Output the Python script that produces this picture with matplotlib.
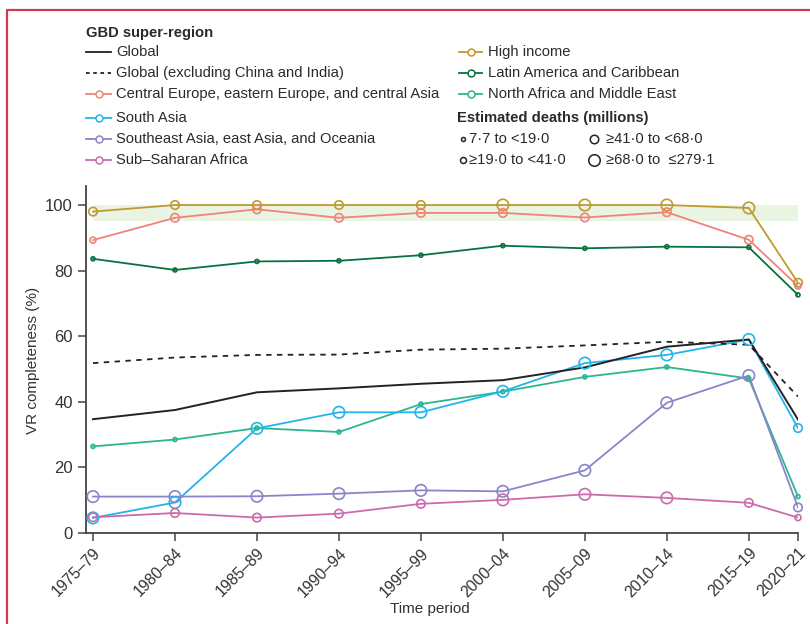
import numpy as np
import matplotlib.pyplot as plt

plt.rcParams['font.family'] = ['Liberation Sans', 'DejaVu Sans']

# data
periods = ['1975–79', '1980–84', '1985–89', '1990–94', '1995–99',
           '2000–04', '2005–09', '2010–14', '2015–19', '2020–21']
mid_year = [1977, 1982, 1987, 1992, 1997, 2002, 2007, 2012, 2017, 2020]

global_all = [34.7, 37.5, 42.9, 44.1, 45.5, 46.6, 50.5, 56.8, 59.0, 34.6]
global_excl = [51.8, 53.5, 54.3, 54.4, 55.9, 56.2, 57.2, 58.3, 57.4, 41.6]
high_income = [98.0, 100, 100, 100, 100, 100, 100, 100, 99.1, 76.3]
central_europe = [89.3, 96.1, 98.7, 96.1, 97.6, 97.6, 96.2, 97.8, 89.4, 75.3]
latin_america = [83.6, 80.2, 82.8, 83.0, 84.7, 87.6, 86.8, 87.3, 87.1, 72.6]
north_africa = [26.4, 28.5, 32.0, 30.8, 39.3, 43.1, 47.6, 50.6, 47.1, 11.1]
south_asia = [4.6, 9.3, 31.9, 36.8, 36.8, 43.2, 51.8, 54.3, 59.0, 32.0]
se_asia = [11.1, 11.1, 11.2, 12.0, 13.0, 12.7, 19.1, 39.7, 48.0, 7.8]
ss_africa = [4.8, 6.1, 4.7, 5.9, 8.9, 10.1, 11.8, 10.7, 9.2, 4.7]

# estimated deaths category (1..4) per point
hi_cat = [3, 3, 3, 3, 3, 4, 4, 4, 4, 3]
ce_cat = [2, 3, 3, 3, 3, 3, 3, 3, 3, 2]
la_cat = [1, 1, 1, 1, 1, 1, 1, 1, 1, 1]
na_cat = [1, 1, 1, 1, 1, 1, 1, 1, 1, 1]
sa_cat = [4, 4, 4, 4, 4, 4, 4, 4, 4, 3]
sea_cat = [4, 4, 4, 4, 4, 4, 4, 4, 4, 3]
ssa_cat = [3, 3, 3, 3, 3, 4, 4, 4, 3, 2]

death_labels = ['7·7 to <19·0', '≥19·0 to <41·0', '≥41·0 to <68·0', '≥68·0 to  ≤279·1']

# marker diameter in pixels for each category
diam = {1: 4, 2: 6, 3: 8.5, 4: 11.5}

col = {'hi': '#c09a2e', 'ce': '#f0837a', 'la': '#08723f', 'na': '#2db592',
       'sa': '#22b5ea', 'sea': '#8a85c7', 'ssa': '#cc6aac'}
txt = '#2a2a2a'

fig = plt.figure(figsize=(8.1, 6.24), dpi=100)
W, H = 810, 624
ax = fig.add_axes([86 / W, 1 - 533 / H, (798 - 86) / W, (533 - 186) / H])

x = np.array(mid_year)
ax.fill_between([x[0], x[-1]], 95, 100, color='#e9f4e2', lw=0, zorder=0)

ax.plot(x, global_all, color='#222222', lw=1.4, zorder=3)
ax.plot(x, global_excl, color='#222222', lw=1.3, ls=(0, (3, 3)), zorder=3)

series = [(high_income, hi_cat, 'hi'), (central_europe, ce_cat, 'ce'),
          (latin_america, la_cat, 'la'), (north_africa, na_cat, 'na'),
          (south_asia, sa_cat, 'sa'), (se_asia, sea_cat, 'sea'),
          (ss_africa, ssa_cat, 'ssa')]
for vals, cats, key in series:
    ax.plot(x, vals, color=col[key], lw=1.3, zorder=2)
    s = [(diam[c] * 0.72) ** 2 for c in cats]
    ax.scatter(x, vals, s=s, facecolors='none', edgecolors=col[key],
               linewidths=1.2, zorder=4, clip_on=False)

ax.set_xlim(1977 - 7 / 16.4, 2020)
ax.set_ylim(0, 105.8)
ax.set_yticks([0, 20, 40, 60, 80, 100])
ax.set_xticks(x)
ax.set_xticklabels(periods, rotation=45, ha='right', rotation_mode='anchor')
for sp in ['top', 'right']:
    ax.spines[sp].set_visible(False)
for sp in ['left', 'bottom']:
    ax.spines[sp].set_color('#444444')
    ax.spines[sp].set_linewidth(1.3)
ax.tick_params(axis='both', length=6, width=1.1, color='#444444',
               labelsize=12, labelcolor='#333333')
ax.tick_params(axis='x', pad=3, labelsize=11.3)

fig.text(33 / W, 1 - 360 / H, 'VR completeness (%)', rotation=90,
         ha='center', va='center', fontsize=11, color='#333333')
fig.text(430 / W, 1 - 609 / H, 'Time period', ha='center', va='center',
         fontsize=11, color='#333333')

# legend drawn on an overlay in pixel coordinates
lg = fig.add_axes([0, 0, 1, 1], zorder=-1)
lg.set_xlim(0, W)
lg.set_ylim(H, 0)
lg.axis('off')

fs = 10.6
lg.text(86, 33, 'GBD super-region', fontsize=fs, fontweight='bold', va='center', color=txt)
left_items = [('Global', '#222222', '-', False),
              ('Global (excluding China and India)', '#222222', (0, (2, 2)), False),
              ('Central Europe, eastern Europe, and central Asia', col['ce'], '-', True),
              ('South Asia', col['sa'], '-', True),
              ('Southeast Asia, east Asia, and Oceania', col['sea'], '-', True),
              ('Sub–Saharan Africa', col['ssa'], '-', True)]
left_y = [52, 73, 94, 118, 139, 160]
for (lab, c, ls, mk), yy in zip(left_items, left_y):
    lg.plot([86, 111], [yy, yy], color=c, lw=1.3, ls=ls)
    if mk:
        lg.plot([98.5], [yy], 'o', ms=5, mfc='white', mec=c, mew=1.1)
    lg.text(116, yy, lab, fontsize=fs, va='center', color=txt)

right_items = [('High income', col['hi']), ('Latin America and Caribbean', col['la']),
               ('North Africa and Middle East', col['na'])]
for (lab, c), yy in zip(right_items, left_y[:3]):
    lg.plot([459, 482], [yy, yy], color=c, lw=1.3)
    lg.plot([470.5], [yy], 'o', ms=5, mfc='white', mec=c, mew=1.1)
    lg.text(488, yy, lab, fontsize=fs, va='center', color=txt)

lg.text(457, 118, 'Estimated deaths (millions)', fontsize=fs, fontweight='bold',
        va='center', color=txt)
pos = [(463, 139), (463, 160), (594, 139), (594, 160)]
for (px, py), lab, c in zip(pos, death_labels, [1, 2, 3, 4]):
    lg.plot([px], [py], 'o', ms=diam[c] * 0.72, mfc='none', mec='#222222', mew=1.1)
    lg.text(px + 6 if c < 3 else px + 12, py, lab, fontsize=fs, va='center', color=txt)

# figure frame
lg.plot([7, 7, W + 5], [H + 5, 10, 10], color='#d03a55', lw=1.6, clip_on=False)

fig.savefig('out.png', dpi=100)
